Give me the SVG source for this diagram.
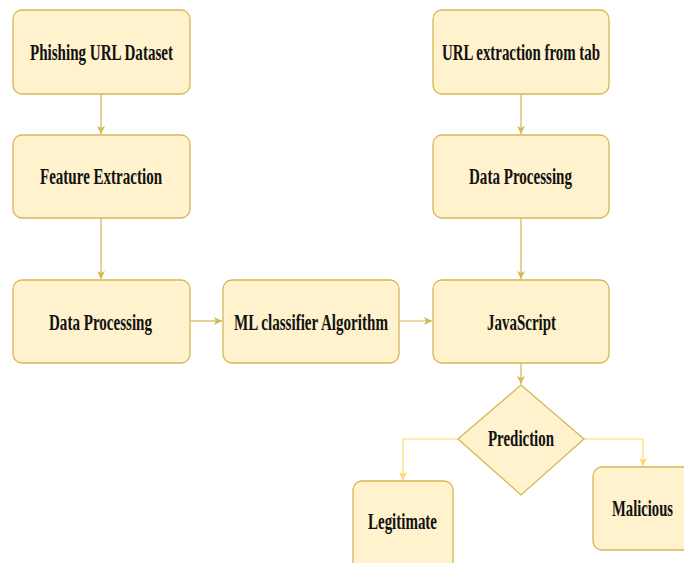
<svg xmlns="http://www.w3.org/2000/svg" width="684" height="563" viewBox="0 0 684 563">
<style>
.box{fill:#fff2cc;stroke:#d6b656;stroke-width:1.3}
.t{font-family:"Liberation Serif","Times New Roman",serif;font-weight:bold;font-size:23px;fill:#111;text-anchor:start}
.c{fill:none;stroke:#d6b656;stroke-width:1.2}
.c2{fill:none;stroke:#ffd966;stroke-width:1.2}
</style>
<defs>
<marker id="a" markerWidth="10" markerHeight="10" refX="8" refY="5" orient="auto" markerUnits="userSpaceOnUse"><path d="M0,1 L8,5 L0,9 L2,5 Z" fill="#d6b656"/></marker>
<marker id="b" markerWidth="10" markerHeight="10" refX="8" refY="5" orient="auto" markerUnits="userSpaceOnUse"><path d="M0,1 L8,5 L0,9 L2,5 Z" fill="#ffd966"/></marker>
</defs>
<rect width="684" height="563" fill="#fff"/>
<g id="connectors">
<path class="c" d="M101,94 V134" marker-end="url(#a)"/>
<path class="c" d="M101,218 V279" marker-end="url(#a)"/>
<path class="c" d="M190,321 H222" marker-end="url(#a)"/>
<path class="c" d="M399,321 H432" marker-end="url(#a)"/>
<path class="c" d="M521,94 V134" marker-end="url(#a)"/>
<path class="c" d="M521,218 V279" marker-end="url(#a)"/>
<path class="c" d="M521,363 V384" marker-end="url(#a)"/>
<path class="c2" d="M458,439 H403 V480" marker-end="url(#b)"/>
<path class="c2" d="M584,439 H643 V466" marker-end="url(#b)"/>
</g>
<g id="n1"><rect class="box" x="13" y="10" width="177" height="84" rx="9"/><text class="t" transform="translate(30,60) scale(0.62,1)" textLength="230.6" lengthAdjust="spacingAndGlyphs">Phishing URL Dataset</text></g>
<g id="n2"><rect class="box" x="13" y="135" width="177" height="83" rx="9"/><text class="t" transform="translate(40,184) scale(0.62,1)" textLength="196.8" lengthAdjust="spacingAndGlyphs">Feature Extraction</text></g>
<g id="n3"><rect class="box" x="13" y="280" width="177" height="83" rx="9"/><text class="t" transform="translate(49,330) scale(0.62,1)" textLength="166.1" lengthAdjust="spacingAndGlyphs">Data Processing</text></g>
<g id="n4"><rect class="box" x="223" y="280" width="176" height="83" rx="9"/><text class="t" transform="translate(234,330) scale(0.62,1)" textLength="248.4" lengthAdjust="spacingAndGlyphs">ML classifier Algorithm</text></g>
<g id="n5"><rect class="box" x="433" y="10" width="176" height="84" rx="9"/><text class="t" transform="translate(442,60) scale(0.62,1)" textLength="254.8" lengthAdjust="spacingAndGlyphs">URL extraction from tab</text></g>
<g id="n6"><rect class="box" x="433" y="135" width="176" height="83" rx="9"/><text class="t" transform="translate(469,184) scale(0.62,1)" textLength="166.1" lengthAdjust="spacingAndGlyphs">Data Processing</text></g>
<g id="n7"><rect class="box" x="433" y="280" width="176" height="83" rx="9"/><text class="t" transform="translate(487,330) scale(0.62,1)" textLength="111.3" lengthAdjust="spacingAndGlyphs">JavaScript</text></g>
<g id="n8"><path class="box" d="M521,385 L584,439 L521,495 L458,439 Z"/><text class="t" transform="translate(488,446) scale(0.62,1)" textLength="106.5" lengthAdjust="spacingAndGlyphs">Prediction</text></g>
<g id="n9"><rect class="box" x="353" y="481" width="100" height="90" rx="9"/><text class="t" transform="translate(368,529) scale(0.62,1)" textLength="111.3" lengthAdjust="spacingAndGlyphs">Legitimate</text></g>
<g id="n10"><rect class="box" x="593" y="467" width="100" height="83" rx="9"/><text class="t" transform="translate(612,516) scale(0.62,1)" textLength="98.4" lengthAdjust="spacingAndGlyphs">Malicious</text></g>
</svg>
